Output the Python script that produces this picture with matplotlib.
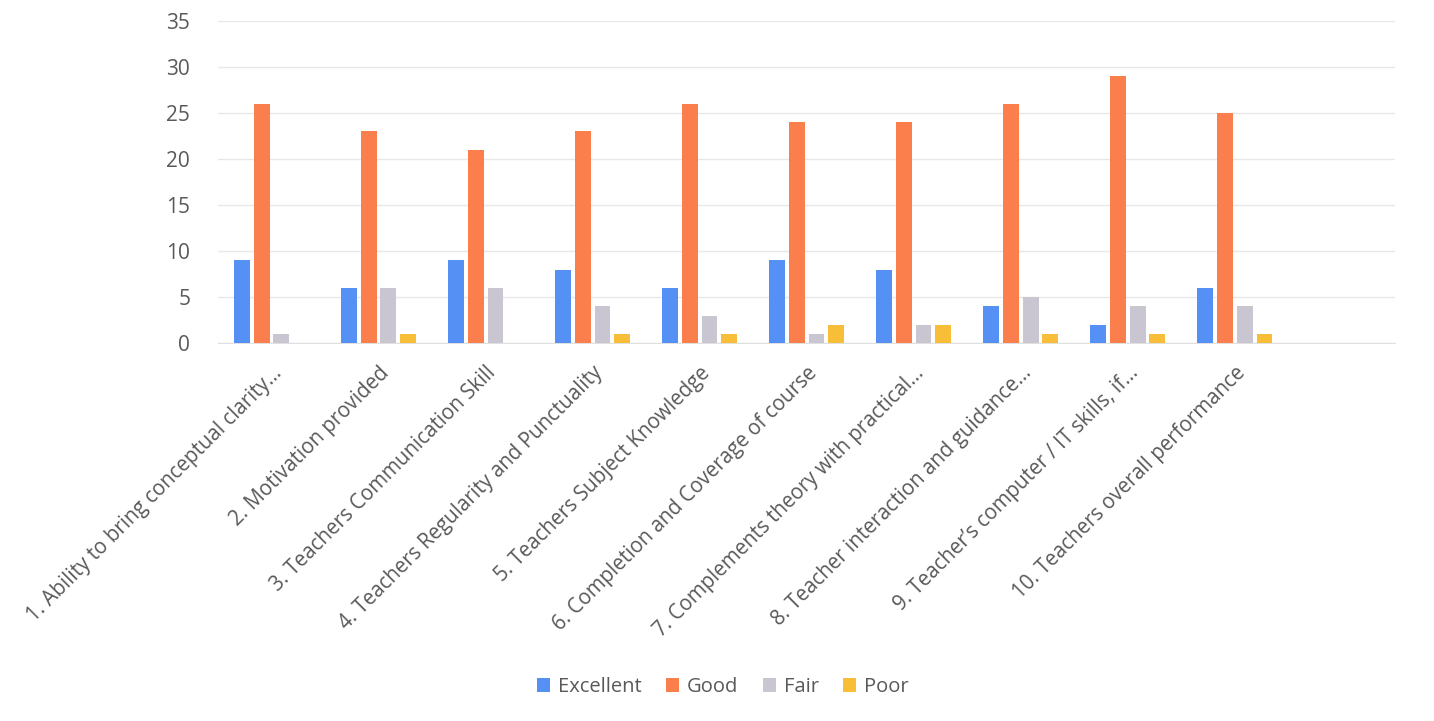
import matplotlib
matplotlib.use("Agg")
import matplotlib.pyplot as plt
import numpy as np

plt.rcParams['font.family'] = ['Open Sans', 'DejaVu Sans']

categories = [
    "1. Ability to bring conceptual clarity...",
    "2. Motivation provided",
    "3. Teachers Communication Skill",
    "4. Teachers Regularity and Punctuality",
    "5. Teachers Subject Knowledge",
    "6. Completion and Coverage of course",
    "7. Complements theory with practical...",
    "8. Teacher interaction and guidance...",
    "9. Teacher\u2019s computer / IT skills, if...",
    "10. Teachers overall performance",
]
excellent = [9, 6, 9, 8, 6, 9, 8, 4, 2, 6]
good = [26, 23, 21, 23, 26, 24, 24, 26, 29, 25]
fair = [1, 6, 6, 4, 3, 1, 2, 5, 4, 4]
poor = [0, 1, 0, 1, 1, 2, 2, 1, 1, 1]
series = [("Excellent", excellent, "#5590F5"),
          ("Good", good, "#FB7F4C"),
          ("Fair", fair, "#C9C6D2"),
          ("Poor", poor, "#F8BE37")]

fig = plt.figure(figsize=(14.34, 7.21), dpi=100)
ax = fig.add_axes([0.152, 0.524, 0.821, 0.447])

x = np.arange(len(categories))
w = 0.148
step = 0.185
for i, (name, vals, col) in enumerate(series):
    ax.bar(x + (i - 1.5) * step, vals, width=w, color=col, label=name, zorder=3)

ax.set_xlim(-0.5, 10.5)
ax.set_ylim(0, 35)
ax.set_yticks(range(0, 36, 5))
ax.grid(axis='y', color='#E8E8E8', linewidth=1, zorder=0)
for s in ['top', 'right', 'left']:
    ax.spines[s].set_visible(False)
ax.spines['bottom'].set_color('#E0E0E0')
ax.tick_params(axis='both', length=0, colors='#595959')
ax.tick_params(axis='y', pad=20, labelsize=15)
ax.set_xticks(x)
ax.set_xticklabels(categories, rotation=45, ha='right', rotation_mode='anchor',
                   color='#595959', fontsize=14.8)
ax.tick_params(axis='x', pad=14)

handles, labels = ax.get_legend_handles_labels()
fig.legend(handles, labels, loc='center', bbox_to_anchor=(0.504, 0.047), ncol=4,
           frameon=False, fontsize=14.5, handlelength=0.65, handleheight=0.7,
           handletextpad=0.4, columnspacing=1.2, labelcolor='#595959')

fig.savefig("out.png", dpi=100)
